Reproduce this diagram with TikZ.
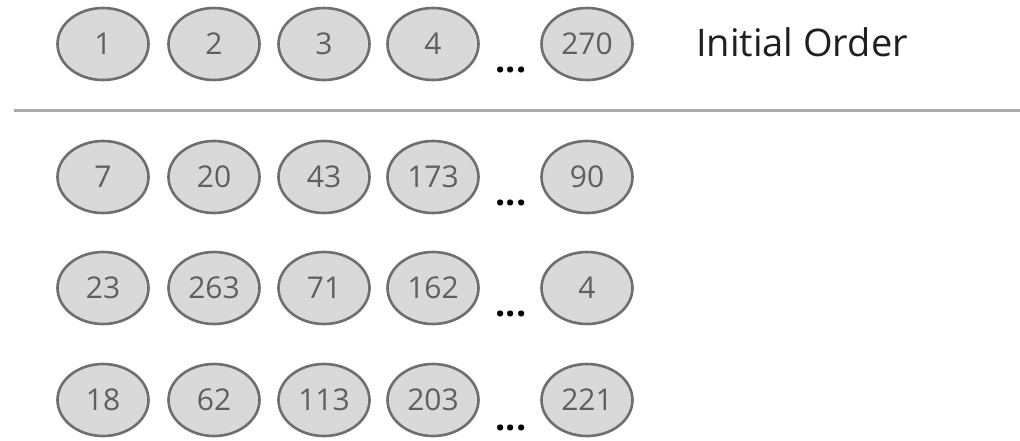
\documentclass[tikz,border=0pt]{standalone}
\usepackage{fontspec}
\setmainfont{Open Sans}
\usetikzlibrary{shapes.geometric}
\definecolor{efill}{HTML}{D9D9D9}
\definecolor{edraw}{HTML}{6E6E6E}
\definecolor{etext}{HTML}{5F5F5F}
\definecolor{rule}{HTML}{AAAAAA}
\tikzset{
  num/.style={ellipse, draw=edraw, fill=efill, line width=2.6pt, minimum width=91pt, minimum height=72pt, inner sep=0pt, text=etext, font=\fontsize{30}{30}\selectfont},
  dots/.style={anchor=base, text=black, inner sep=0pt, font=\bfseries\fontsize{36}{36}\selectfont},
}
\begin{document}
\begin{tikzpicture}[x=1pt,y=-1pt]
\useasboundingbox[fill=white] (0,0) rectangle (1020,440);
% row 1
\foreach \lab/\x [count=\i] in {1/103,2/214,3/324,4/433,270/587}{
  \node[num] (a\i) at (\x,44) {\lab};
}
\node[dots] (ad) at (511,72) {...};
\node[anchor=base west, inner sep=0pt, text=black!88, font=\fontsize{38}{38}\selectfont] (title) at (696,56) {Initial Order};
% separator
\coordinate (l0) at (14,110);
\coordinate (l1) at (1020,110);
\draw[rule, line width=3pt] (l0) -- (l1);
% row 2
\foreach \lab/\x [count=\i] in {7/103,20/214,43/324,173/433,90/587}{
  \node[num] (b\i) at (\x,177) {\lab};
}
\node[dots] (bd) at (511,205) {...};
% row 3
\foreach \lab/\x [count=\i] in {23/103,263/214,71/324,162/433,4/587}{
  \node[num] (c\i) at (\x,288) {\lab};
}
\node[dots] (cd) at (511,316) {...};
% row 4
\foreach \lab/\x [count=\i] in {18/103,62/214,113/324,203/433,221/587}{
  \node[num] (d\i) at (\x,400) {\lab};
}
\node[dots] (dd) at (511,430) {...};
\end{tikzpicture}
\end{document}
